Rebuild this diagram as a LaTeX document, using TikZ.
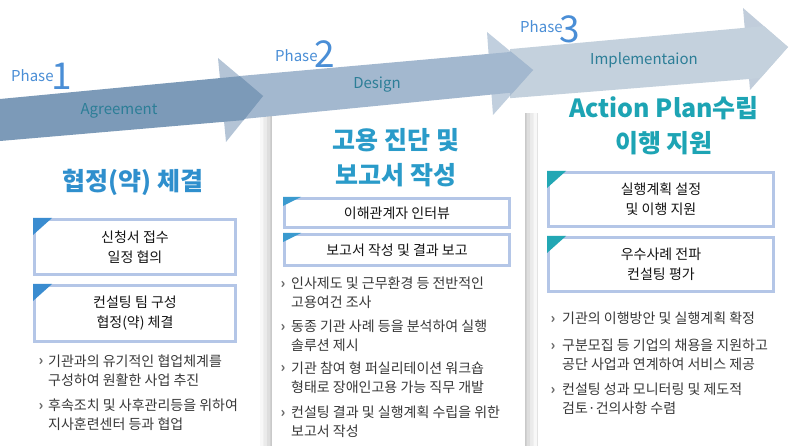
\documentclass[tikz,border=0pt]{standalone}
\usepackage{fontspec}
\setmainfont{Noto Sans CJK KR}
\usetikzlibrary{shadows.blur}
\definecolor{phaseblue}{HTML}{4A8ED6}
\definecolor{arrowtxt}{HTML}{2C7E97}
\definecolor{shaftA}{HTML}{7C9AB8}
\definecolor{headA}{HTML}{829EBC}
\definecolor{shaftB}{HTML}{A3B8CF}
\definecolor{headB}{HTML}{98AFC8}
\definecolor{shaftC}{HTML}{C4D1DD}
\definecolor{headC}{HTML}{98ADC3}
\definecolor{titleA}{HTML}{2F8FCD}
\definecolor{titleB}{HTML}{2A9BC9}
\definecolor{titleC}{HTML}{1DA4B4}
\definecolor{boxline}{HTML}{B4C6E7}
\definecolor{triA}{HTML}{3A8CD0}
\definecolor{triB}{HTML}{3A9ACF}
\definecolor{triC}{HTML}{22A7B4}
\definecolor{txtdark}{HTML}{141414}
\definecolor{txtbody}{HTML}{383838}
\definecolor{bmkgray}{HTML}{6A6A6A}
\begin{document}
\begin{tikzpicture}[x=1pt,y=-1pt,
  boxa/.style={draw=boxline, line width=3pt, fill=white, align=center, inner sep=0pt,
    text=txtdark, font=\fontsize{14}{20}\selectfont},
  coltitle/.style={align=center, inner sep=0pt, font=\fontsize{25}{35}\selectfont\bfseries},
  bodytxt/.style={anchor=base west, align=left, inner sep=0pt, text=txtbody,
    font=\fontsize{14}{19}\selectfont},
  bmk/.style={anchor=base, inner sep=0pt, text=bmkgray, font=\fontsize{14}{19}\selectfont\bfseries},
  phasetxt/.style={anchor=base west, inner sep=0pt, text=phaseblue, font=\fontsize{15}{15}\selectfont},
  phasenum/.style={anchor=base west, inner sep=0pt, text=phaseblue, font=\fontsize{37}{37}\selectfont},
  arrlabel/.style={inner sep=0pt, text=arrowtxt, font=\fontsize{15}{15}\selectfont}]
\useasboundingbox (0,0) rectangle (790,446);
\fill[white] (0,0) rectangle (790,446);

% middle panel with shadow
\path[fill=white, blur shadow={shadow xshift=0pt, shadow yshift=0pt, shadow blur radius=12pt, shadow opacity=42}]
  (272,112) rectangle (525,490);
\fill[white] (255,0) rectangle (545,113);

% arrows
\fill[headC, fill opacity=0.6] (743,8) -- (788,47) -- (750,90) -- cycle;
\fill[shaftC] (510,49.1) -- (763.9,26.1) -- (788,47) -- (760.5,78.1) -- (510,98.2) -- cycle;
\fill[headB, fill opacity=0.6] (487,32) -- (533,70) -- (493,115) -- cycle;
\fill[shaftB] (240,76) -- (511.1,51.9) -- (533,70) -- (512.9,92.5) -- (240,119.3) -- cycle;
\fill[headA, fill opacity=0.6] (218,58) -- (263,96) -- (226,142) -- cycle;
\fill[shaftA] (0,99) -- (239.8,76.2) -- (263,96) -- (243.7,120.1) -- (0,141) -- cycle;

\node[arrlabel] (lagr) at (119,111) {Agreement};
\node[arrlabel] (ldes) at (377,85) {Design};
\node[arrlabel] (limp) at (644,60) {Implementaion};

% phase labels
\node[phasetxt] (p1t) at (11,82) {Phase};
\node[phasenum] (p1n) at (51,90) {1};
\node[phasetxt] (p2t) at (275,62) {Phase};
\node[phasenum] (p2n) at (314,68) {2};
\node[phasetxt] (p3t) at (520,33) {Phase};
\node[phasenum] (p3n) at (559,43) {3};

% column titles
\node[coltitle, text=titleA] (t1) at (133,182) {협정(약) 체결};
\node[coltitle, text=titleB] (t2) at (396,158) {고용 진단 및\\보고서 작성};
\node[coltitle, text=titleC] (t3) at (664,125.5) {Action Plan수립\\이행 지원};

% column 1 boxes
\node[boxa, minimum width=201pt, minimum height=55pt] (b11) at (135,247) {신청서 접수\\일정 협의};
\node[boxa, minimum width=201pt, minimum height=56pt] (b12) at (135,313.5) {컨설팅 팀 구성\\협정(약) 체결};
\fill[triA] (b11.north west) -- ++(19,0) -- ++(-19,17) -- cycle;
\fill[triA] (b12.north west) -- ++(19,0) -- ++(-19,17) -- cycle;

% column 2 boxes
\node[boxa, minimum width=225pt, minimum height=29pt] (b21) at (397,213) {이해관계자 인터뷰};
\node[boxa, minimum width=225pt, minimum height=31pt] (b22) at (397,250) {보고서 작성 및 결과 보고};
\fill[triB] (b21.north west) -- ++(18,0) -- ++(-18,9) -- cycle;
\fill[triB] (b22.north west) -- ++(18,0) -- ++(-18,9) -- cycle;

% column 3 boxes
\node[boxa, minimum width=225pt, minimum height=54pt] (b31) at (661,199.5) {실행계획 설정\\및 이행 지원};
\node[boxa, minimum width=225pt, minimum height=54pt] (b32) at (661,264.5) {우수사례 전파\\컨설팅 평가};
\fill[triC] (b31.north west) -- ++(19,0) -- ++(-19,17) -- cycle;
\fill[triC] (b32.north west) -- ++(19,0) -- ++(-19,17) -- cycle;

% column 1 bullets (node base = baseline of last line)
\node[bmk] (m11) at (41,366) {›};
\node[bodytxt] (x11) at (48,385) {기관과의 유기적인 협업체계를\\구성하여 원활한 사업 추진};
\node[bmk] (m12) at (41,410) {›};
\node[bodytxt] (x12) at (48,429) {후속조치 및 사후관리등을 위하여\\지사훈련센터 등과 협업};

% column 2 bullets
\node[bmk] (m21) at (283,289) {›};
\node[bodytxt] (x21) at (291,308) {인사제도 및 근무환경 등 전반적인\\고용여건 조사};
\node[bmk] (m22) at (283,332) {›};
\node[bodytxt] (x22) at (291,351) {동종 기관 사례 등을 분석하여 실행\\솔루션 제시};
\node[bmk] (m23) at (283,373) {›};
\node[bodytxt] (x23) at (291,392) {기관 참여 형 퍼실리테이션 워크숍\\형태로 장애인고용 가능 직무 개발};
\node[bmk] (m24) at (283,417) {›};
\node[bodytxt] (x24) at (291,436) {컨설팅 결과 및 실행계획 수립을 위한\\보고서 작성};

% column 3 bullets
\node[bmk] (m31) at (553,324) {›};
\node[bodytxt] (x31) at (562,324) {기관의 이행방안 및 실행계획 확정};
\node[bmk] (m32) at (553,351) {›};
\node[bodytxt] (x32) at (562,370) {구분모집 등 기업의 채용을 지원하고\\공단 사업과 연계하여 서비스 제공};
\node[bmk] (m33) at (553,394) {›};
\node[bodytxt] (x33) at (562,413) {컨설팅 성과 모니터링 및 제도적\\검토·건의사항 수렴};
\end{tikzpicture}
\end{document}
